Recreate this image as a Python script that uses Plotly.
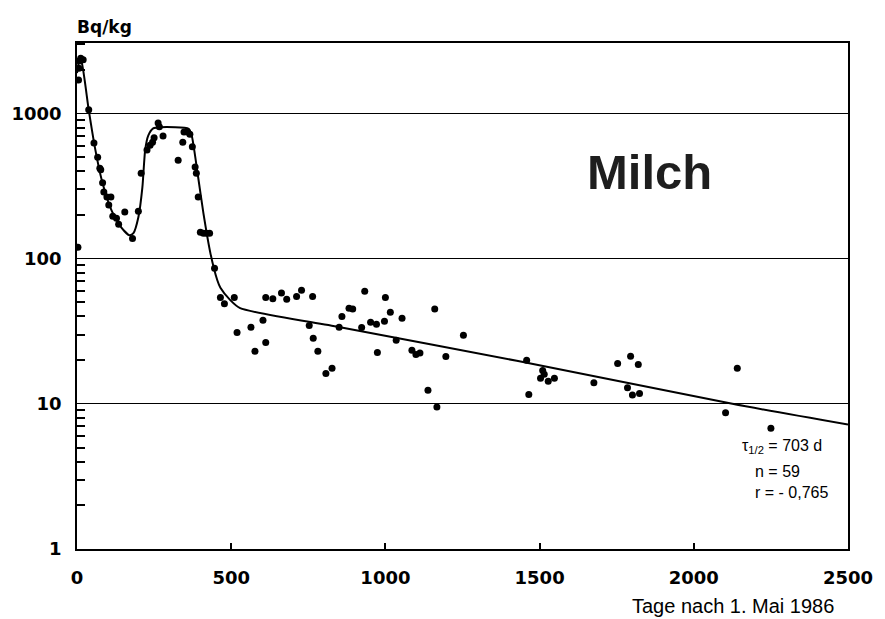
import plotly.graph_objects as go

# Measured points (days after 1 May 1986, Bq/kg)
point_days = [3, 5, 6, 8, 12, 20, 38, 55, 67, 74, 77, 83, 87, 97, 110, 103, 116, 128, 135,
              155, 180, 199, 208, 227, 237, 245, 250, 263, 267, 279, 328, 343, 347, 358,
              366, 374, 383, 387, 393, 400, 410, 420, 430, 446, 465, 478, 510, 519, 564,
              577, 603, 612, 612, 635, 663, 680, 712, 728, 764, 753, 766, 781, 807, 827,
              850, 859, 882, 894, 923, 933, 952, 971, 974, 997, 1000, 1016, 1035, 1054,
              1086, 1099, 1112, 1138, 1160, 1167, 1196, 1253, 1458, 1465, 1503, 1510, 1515,
              1528, 1548, 1676, 1753, 1785, 1795, 1801, 1820, 1824, 2103, 2141, 2250]
point_vals = [120, 1700, 2050, 2300, 2400, 2350, 1060, 627, 500, 420, 410, 333, 288, 266,
              266, 234, 196, 190, 173, 210, 138, 212, 388, 560, 605, 635, 680, 860, 810,
              700, 477, 635, 745, 745, 720, 590, 428, 388, 266, 152, 150, 150, 150, 86, 54,
              49, 54, 31, 33.7, 23, 37.7, 26.5, 54, 53, 58, 52.6, 55, 60.7, 55, 34.7, 28.3,
              23, 16.2, 17.6, 33.7, 40, 45.6, 45, 33.6, 59.7, 36.5, 35.3, 22.6, 37, 54,
              42.8, 27.4, 38.9, 23.4, 21.9, 22.4, 12.4, 45, 9.5, 21.2, 29.7, 20, 11.6, 15,
              17, 16, 14.3, 15, 14, 19, 12.9, 21.3, 11.5, 18.7, 11.8, 8.7, 17.6, 6.8]

# Fitted curve
curve_days = [0, 8, 15, 38, 58, 80, 112, 144, 170, 183, 199, 212, 221, 231, 247, 272,
              362, 372, 391, 410, 433, 455, 465, 497, 529, 849, 1426, 2125, 2500]
curve_vals = [1900, 2350, 2250, 1060, 585, 350, 215, 164, 145, 150, 193, 310, 560, 705,
              790, 805, 785, 705, 388, 205, 108, 71, 63, 51.8, 45.6, 33.8, 19.8, 10.0, 7.2]

x_ticks = [0, 500, 1000, 1500, 2000, 2500]
y_ticks = [1, 10, 100, 1000]
y_tick_text = ["1", "10", "100", "1000"]
y_minor_ticks = [2, 3, 4, 5, 6, 7, 8, 9, 20, 30, 40, 50, 60, 70, 80, 90,
                 200, 300, 400, 500, 600, 700, 800, 900, 2000, 3000]

fig = go.Figure()
fig.add_trace(go.Scatter(x=curve_days, y=curve_vals, mode="lines",
                         line=dict(color="black", width=2, shape="spline", smoothing=0.6),
                         hoverinfo="skip"))
fig.add_trace(go.Scatter(x=point_days, y=point_vals, mode="markers",
                         marker=dict(color="black", size=7)))

fig.update_layout(
    width=885, height=619,
    margin=dict(l=75, r=31, t=43, b=70),
    paper_bgcolor="white", plot_bgcolor="white",
    showlegend=False,
    font=dict(family="DejaVu Sans", color="black"),
)
fig.update_xaxes(range=[0, 2500], tickvals=x_ticks, ticks="inside", ticklen=6,
                 tickcolor="black", tickwidth=1.5, showgrid=False, zeroline=False,
                 showline=True, linecolor="black", linewidth=1.5, mirror=True,
                 tickfont=dict(family="DejaVu Sans", size=18, weight="bold"),
                 ticklabelstandoff=12)
fig.update_yaxes(type="log", range=[0, 3.486], tickvals=y_ticks, ticktext=y_tick_text,
                 ticks="", showgrid=True, gridcolor="black", gridwidth=1,
                 zeroline=False, showline=True, linecolor="black", linewidth=1.5, mirror=True,
                 tickfont=dict(family="DejaVu Sans", size=18, weight="bold"),
                 ticklabelstandoff=10,
                 minor=dict(ticks="inside", ticklen=8, tickcolor="black", tickwidth=1.5,
                            tickmode="array", tickvals=y_minor_ticks, showgrid=False))

fig.add_annotation(text="Bq/kg", xref="paper", yref="paper", x=-0.003, y=1.032,
                   xanchor="left", yanchor="middle", showarrow=False,
                   font=dict(family="DejaVu Sans", size=17, weight="bold"))
fig.add_annotation(text="Milch", xref="paper", yref="paper", x=0.743, y=0.745,
                   xanchor="center", yanchor="middle", showarrow=False,
                   font=dict(family="Liberation Sans", size=49, weight="bold", color="#1e1e1e"))
fig.add_annotation(text="Tage nach 1. Mai 1986", xref="paper", yref="paper", x=0.985, y=-0.113,
                   xanchor="right", yanchor="middle", showarrow=False,
                   font=dict(family="Liberation Sans", size=20))
fig.add_annotation(text="τ<sub>1/2</sub> = 703 d", xref="paper", yref="paper",
                   x=(745 - 75) / 779, y=(549 - 446) / 506,
                   xanchor="left", yanchor="middle", showarrow=False,
                   font=dict(family="Liberation Sans", size=16))
fig.add_annotation(text="n = 59", xref="paper", yref="paper",
                   x=(758 - 75) / 779, y=(549 - 471) / 506,
                   xanchor="left", yanchor="middle", showarrow=False,
                   font=dict(family="Liberation Sans", size=16))
fig.add_annotation(text="r = - 0,765", xref="paper", yref="paper",
                   x=(758 - 75) / 779, y=(549 - 492) / 506,
                   xanchor="left", yanchor="middle", showarrow=False,
                   font=dict(family="Liberation Sans", size=16))

fig.write_html("out.html")
